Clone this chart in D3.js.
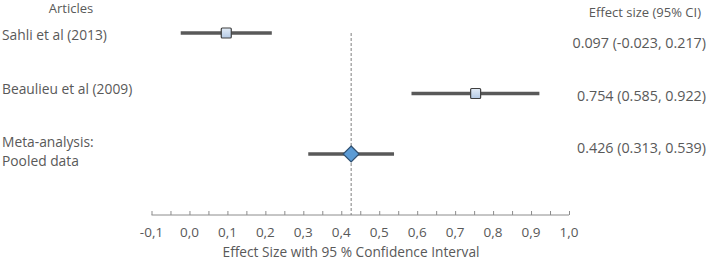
<!DOCTYPE html>
<html>
<head>
<meta charset="utf-8">
<script src="https://cdn.jsdelivr.net/npm/d3@7"></script>
<style>
    body { margin: 0; background: #fff; }
    svg text { font-family: 'Open Sans', sans-serif; fill: #595959; }
</style>
</head>
<body>
<div id="chart"></div>
<script>
'use strict';

// Forest plot data
var studies   = ['Sahli et al (2013)', 'Beaulieu et al (2009)', 'Meta-analysis:|Pooled data'];
var effects   = [0.097, 0.754, 0.426];
var lowers    = [-0.023, 0.585, 0.313];
var uppers    = [0.217, 0.922, 0.539];
var pooled    = [false, false, true];
var ciLabels  = ['0.097 (-0.023, 0.217)', '0.754 (0.585, 0.922)', '0.426 (0.313, 0.539)'];
var tickVals  = [-0.1, 0, 0.1, 0.2, 0.3, 0.4, 0.5, 0.6, 0.7, 0.8, 0.9, 1.0];
var minorVals = [-0.05, 0.05, 0.15, 0.25, 0.35, 0.45, 0.55, 0.65, 0.75, 0.85, 0.95];

var width  = 709,
    height = 264,
    axisY  = 215;

var svg = d3.select('#chart').append('svg')
    .attr('width', width)
    .attr('height', height);

var defs = svg.append('defs');
var grad = defs.append('linearGradient')
    .attr('id', 'boxFill')
    .attr('x1', 0).attr('y1', 0).attr('x2', 0).attr('y2', 1);
grad.append('stop').attr('offset', '0%').attr('stop-color', '#e4edf7');
grad.append('stop').attr('offset', '100%').attr('stop-color', '#b4c9e4');

var x = d3.scaleLinear()
    .domain([-0.1, 1.0])
    .range([151.5, 569]);

var y = d3.scalePoint()
    .domain(d3.range(studies.length))
    .range([33, 154]);

// Axis
var axis = svg.append('g')
    .attr('class', 'axis')
    .attr('transform', 'translate(0,' + axisY + ')')
    .call(d3.axisTop(x).tickValues(tickVals).tickSize(4).tickFormat(''));

axis.select('.domain').attr('stroke', '#8c8c8c').attr('d', 'M' + x(-0.1) + ',0H' + x(1.0));
axis.selectAll('.tick line').attr('stroke', '#8c8c8c');

svg.append('g')
    .attr('transform', 'translate(0,' + axisY + ')')
    .call(d3.axisTop(x).tickValues(minorVals).tickSize(4).tickFormat(''))
    .call(function (g) {
        g.select('.domain').remove();
        g.selectAll('line').attr('stroke', '#8c8c8c');
    });

svg.append('g').selectAll('text')
    .data(tickVals)
    .enter().append('text')
    .attr('x', function (d) { return x(d); })
    .attr('y', axisY + 22)
    .attr('text-anchor', 'middle')
    .style('font-size', '13.5px')
    .text(function (d) { return d3.format('.1f')(d).replace('.', ',').replace('−', '-'); });

svg.append('text')
    .attr('x', 351)
    .attr('y', 257)
    .attr('text-anchor', 'middle')
    .style('font-size', '13.7px')
    .text('Effect Size with 95 % Confidence Interval');

// Dashed line at pooled effect
svg.append('line')
    .attr('x1', x(effects[2])).attr('x2', x(effects[2]))
    .attr('y1', y(0)).attr('y2', axisY)
    .attr('stroke', '#7f7f7f')
    .attr('stroke-width', 1)
    .attr('stroke-dasharray', '3,2');

// CI lines
svg.append('g').selectAll('line')
    .data(studies)
    .enter().append('line')
    .attr('x1', function (d, i) { return x(lowers[i]); })
    .attr('x2', function (d, i) { return x(uppers[i]); })
    .attr('y1', function (d, i) { return y(i); })
    .attr('y2', function (d, i) { return y(i); })
    .attr('stroke', '#595959')
    .attr('stroke-width', 3.5);

// Markers
studies.forEach(function (d, i) {
    var cx = x(effects[i]), cy = y(i);
    if (pooled[i]) {
        svg.append('path')
            .attr('d', 'M' + cx + ',' + (cy - 8) + 'L' + (cx + 8) + ',' + cy + 'L' + cx + ',' + (cy + 8) + 'L' + (cx - 8) + ',' + cy + 'Z')
            .attr('fill', '#5b9bd5')
            .attr('stroke', '#2f4f6f')
            .attr('stroke-width', 1.2);
    } else {
        svg.append('rect')
            .attr('x', cx - 5).attr('y', cy - 5)
            .attr('width', 10).attr('height', 10)
            .attr('rx', 1)
            .attr('fill', 'url(#boxFill)')
            .attr('stroke', '#404040')
            .attr('stroke-width', 1.2);
    }
});

// Headers
svg.append('text')
    .attr('x', 71).attr('y', 13)
    .attr('text-anchor', 'middle')
    .style('font-size', '13px')
    .text('Articles');

svg.append('text')
    .attr('x', 701).attr('y', 17)
    .attr('text-anchor', 'end')
    .style('font-size', '13px')
    .text('Effect size (95% CI)');

// Study labels
var labelY = [35, 89, 142];
studies.forEach(function (d, i) {
    var t = svg.append('text')
        .attr('x', 2)
        .attr('y', labelY[i] + 5)
        .style('font-size', '13.8px');
    d.split('|').forEach(function (line, j) {
        t.append('tspan').attr('x', 2).attr('dy', j === 0 ? 0 : 19).text(line);
    });
});

// Effect size labels
var valueY = [43, 96, 148];
svg.append('g').selectAll('text')
    .data(ciLabels)
    .enter().append('text')
    .attr('x', 706)
    .attr('y', function (d, i) { return valueY[i] + 5; })
    .attr('text-anchor', 'end')
    .style('font-size', '14.3px')
    .text(function (d) { return d; });
</script>
</body>
</html>
